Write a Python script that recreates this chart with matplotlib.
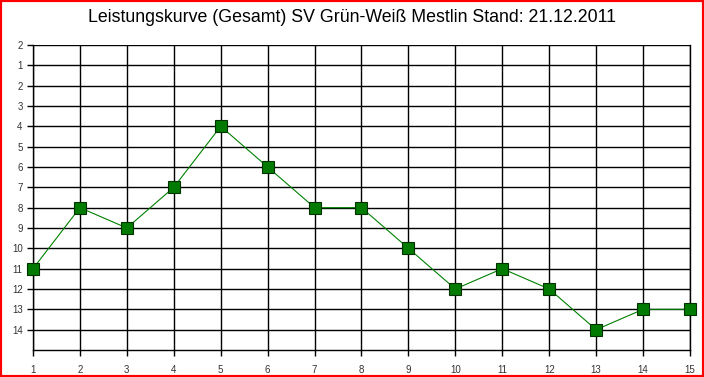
import matplotlib.pyplot as plt
from matplotlib.patches import Rectangle

plt.rcParams['font.family'] = ['Liberation Sans', 'DejaVu Sans']

spieltage = list(range(1, 16))
platz = [11, 8, 9, 7, 4, 6, 8, 8, 10, 12, 11, 12, 14, 13, 13]
y_ticks = list(range(0, 15))
y_labels = ['2'] + [str(i) for i in range(1, 15)]

fig = plt.figure(figsize=(7.04, 3.77), dpi=100)
ax = fig.add_axes([33/704, 1 - 350/377, (690 - 33)/704, (350 - 45)/377])

ax.plot(spieltage, platz, '-', color='#008000', linewidth=0.8, zorder=3)
ax.plot(spieltage, platz, 's', markersize=9, markerfacecolor='#007a00',
        markeredgecolor='#003300', markeredgewidth=0.8, zorder=4, clip_on=False)

ax.set_xlim(1, 15)
ax.set_ylim(15, 0)
ax.set_xticks(spieltage)
ax.set_yticks(y_ticks)
ax.set_yticklabels(y_labels)
ax.grid(True, color='black', linewidth=1)
ax.set_axisbelow(True)
for s in ax.spines.values():
    s.set_color('black')
    s.set_linewidth(1)
ax.spines['top'].set_visible(False)
ax.tick_params(axis='both', labelsize=7, colors='black', labelcolor='#333333',
               length=4, width=1, direction='out')
ax.tick_params(axis='x', pad=7)

fig.text(0.5, 1 - 18/377, 'Leistungskurve (Gesamt) SV Grün-Weiß Mestlin Stand: 21.12.2011',
         ha='center', va='center', fontsize=12.8, color='black')

fig.patches.append(Rectangle((0, 0), 1, 1, transform=fig.transFigure, fill=False,
                             edgecolor='#ff0000', linewidth=3, zorder=10))

fig.savefig('out.png', dpi=100)
